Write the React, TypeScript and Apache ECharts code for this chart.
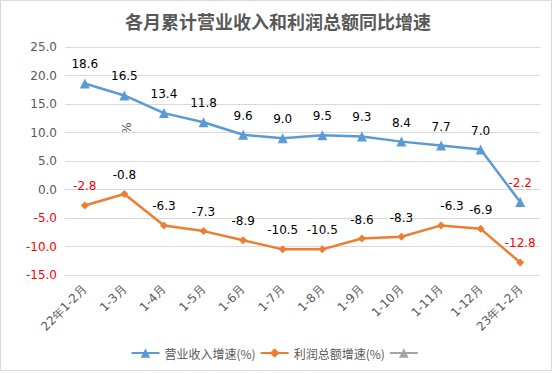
import React, { useEffect, useRef } from "react";
import * as echarts from "echarts";

const categories = ["22年1-2月", "1-3月", "1-4月", "1-5月", "1-6月", "1-7月", "1-8月", "1-9月", "1-10月", "1-11月", "1-12月", "23年1-2月"];
const revenueGrowth = [18.6, 16.5, 13.4, 11.8, 9.6, 9.0, 9.5, 9.3, 8.4, 7.7, 7.0, -2.2];
const profitGrowth = [-2.8, -0.8, -6.3, -7.3, -8.9, -10.5, -10.5, -8.6, -8.3, -6.3, -6.9, -12.8];
const redLabelRevenue = [11];
const redLabelProfit = [0, 11];
const profitLabelOffsets: Record<number, number[]> = { 9: [11, 0] };

export default function App() {
  const ref = useRef<HTMLDivElement>(null);
  useEffect(() => {
    document.body.style.margin = "0";
    const chart = echarts.init(ref.current!, null, { renderer: "svg" });
    const mkData = (vals: number[], reds: number[], offsets: Record<number, number[]>) =>
      vals.map((v, i) => ({
        value: v,
        label: {
          color: reds.includes(i) ? "#FF0000" : "#000000",
          offset: offsets[i] || [0, 0],
        },
      }));
    chart.setOption({
      animation: false,
      backgroundColor: "#ffffff",
      title: {
        text: "各月累计营业收入和利润总额同比增速",
        left: "center",
        top: 7,
        textStyle: { fontSize: 18, fontWeight: "bold", color: "#595959", fontFamily: "Noto Sans CJK SC" },
      },
      graphic: [
        { type: "rect", shape: { x: 0.5, y: 0.5, width: 551, height: 370 }, style: { fill: "none", stroke: "#D9D9D9", lineWidth: 1 }, silent: true },
        { type: "text", x: 127, y: 128, rotation: Math.PI / 2, style: { text: "%", fill: "#595959", fontSize: 12, fontFamily: "DejaVu Sans", align: "center", verticalAlign: "middle" } },
      ],
      legend: {
        bottom: 10,
        left: "center",
        itemWidth: 28,
        itemHeight: 12,
        itemGap: 4,
        textStyle: { fontSize: 12, color: "#595959", fontFamily: "Noto Sans CJK SC" },
        data: ["营业收入增速(%)", "利润总额增速(%)", " "],
      },
      grid: { left: 65, right: 16, top: 47, bottom: 99 },
      xAxis: {
        type: "category",
        data: categories,
        boundaryGap: true,
        axisLine: { show: true, onZero: false, lineStyle: { color: "#D9D9D9" } },
        axisTick: { show: false },
        axisLabel: { rotate: 45, fontSize: 12, color: "#595959", margin: 12, interval: 0, fontFamily: "DejaVu Sans" },
      },
      yAxis: {
        type: "value",
        min: -15,
        max: 25,
        interval: 5,
        axisLine: { show: false },
        axisTick: { show: false },
        splitLine: { lineStyle: { color: "#D9D9D9" } },
        axisLabel: {
          fontSize: 12,
          margin: 8,
          fontFamily: "DejaVu Sans",
          formatter: (v: number) => v.toFixed(1),
          color: (v: any) => (Number(v) < 0 ? "#FF0000" : "#595959"),
        },
      },
      series: [
        {
          name: "营业收入增速(%)",
          type: "line",
          data: mkData(revenueGrowth, redLabelRevenue, {}),
          symbol: "triangle",
          symbolSize: 10,
          lineStyle: { color: "#5B9BD5", width: 2.5 },
          itemStyle: { color: "#5B9BD5" },
          label: { show: true, position: "top", distance: 8, fontSize: 12, fontFamily: "DejaVu Sans", formatter: (p: any) => p.value.toFixed(1) },
        },
        {
          name: "利润总额增速(%)",
          type: "line",
          data: mkData(profitGrowth, redLabelProfit, profitLabelOffsets),
          symbol: "diamond",
          symbolSize: 8,
          lineStyle: { color: "#ED7D31", width: 2.5 },
          itemStyle: { color: "#ED7D31" },
          label: { show: true, position: "top", distance: 9, fontSize: 12, fontFamily: "DejaVu Sans", formatter: (p: any) => p.value.toFixed(1) },
        },
        {
          name: " ",
          type: "line",
          data: [],
          symbol: "triangle",
          symbolSize: 8,
          lineStyle: { color: "#A5A5A5", width: 2 },
          itemStyle: { color: "#A5A5A5" },
        },
      ],
    });
    return () => chart.dispose();
  }, []);
  return <div ref={ref} style={{ width: 556, height: 374 }} />;
}
